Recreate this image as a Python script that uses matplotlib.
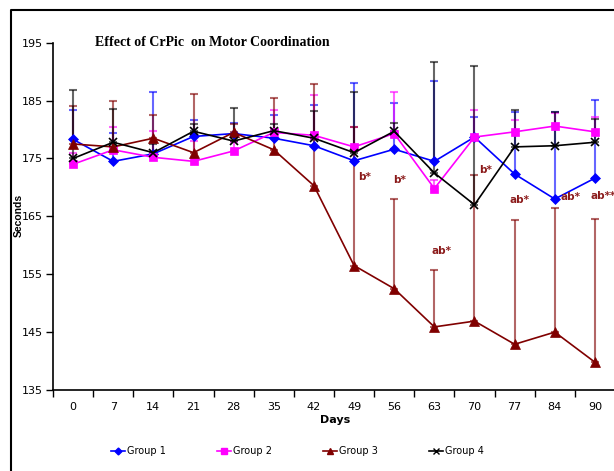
import matplotlib
matplotlib.use("Agg")
import matplotlib.pyplot as plt
from matplotlib.lines import Line2D

days = ["0", "7", "14", "21", "28", "35", "42", "49", "56", "63", "70", "77", "84", "90"]

g1 = [178.3, 174.5, 175.8, 178.8, 179.3, 178.5, 177.2, 174.6, 176.6, 174.5, 178.7, 172.3, 168.0, 171.6]
g1_err = [5.0, 4.9, 10.6, 2.9, 1.9, 4.0, 7.1, 13.5, 8.0, 13.9, 3.5, 10.7, 15.0, 13.5]

g2 = [174.0, 176.5, 175.2, 174.5, 176.3, 179.5, 179.0, 177.0, 179.3, 169.8, 178.7, 179.6, 180.6, 179.6]
g2_err = [2.0, 4.0, 4.6, 3.6, 1.5, 3.8, 6.9, 3.5, 7.1, 1.5, 4.7, 2.0, 2.3, 2.5]

g3 = [177.5, 177.0, 178.5, 176.0, 179.5, 176.5, 170.3, 156.5, 152.5, 145.9, 146.9, 142.9, 145.0, 139.8]
g3_err = [6.5, 8.0, 4.0, 10.2, 1.5, 8.9, 17.6, 24.0, 15.5, 9.9, 25.3, 21.4, 21.5, 24.8]

g4 = [175.0, 177.8, 176.0, 179.7, 178.0, 179.8, 178.5, 176.0, 179.7, 172.5, 167.0, 177.0, 177.2, 177.8]
g4_err = [11.8, 5.7, 1.5, 1.3, 5.7, 1.2, 4.7, 10.4, 1.5, 19.1, 23.9, 6.3, 5.9, 4.0]

# significance labels for group 3
sig_x = [7.1, 7.97, 8.94, 10.11, 10.88, 12.15, 12.88]
sig_y = [171.8, 171.3, 159.0, 173.0, 167.9, 168.3, 168.6]
sig_txt = ["b*", "b*", "ab*", "b*", "ab*", "ab*", "ab**"]

font = "DejaVu Sans"

fig = plt.figure(figsize=(6.14, 4.71), dpi=100)
ax = fig.add_axes([53 / 614, 1 - 390 / 471, 562 / 614, (390 - 42.7) / 471])

x = list(range(len(days)))
series = [
    (g1, g1_err, "#0000ff", "D", 5, "Group 1"),
    (g2, g2_err, "#ff00ff", "s", 6, "Group 2"),
    (g3, g3_err, "#800000", "^", 6.5, "Group 3"),
    (g4, g4_err, "#000000", "x", 6, "Group 4"),
]
handles = []
for vals, err, col, mk, ms, lab in series:
    ax.errorbar(x, vals, yerr=[[0] * len(err), err], fmt="none",
                ecolor=col, alpha=0.6, elinewidth=1.5, capsize=3, capthick=1.5)
for vals, err, col, mk, ms, lab in series:
    ax.plot(x, vals, color=col, lw=1.2, marker=mk, ms=ms, mew=1.2 if mk == "x" else 0.5,
            mec=col, mfc=col, label=lab)
    handles.append(Line2D([], [], color=col, lw=1.2, marker=mk, ms=ms * 0.7, mec=col, mfc=col))

for sx, sy, t in zip(sig_x, sig_y, sig_txt):
    ax.text(sx, sy, t, color="#8b1a1a", fontsize=7.5, fontweight="bold",
            family=font, ha="left", va="center")

ax.set_xlim(-0.5, 13.5)
ax.set_ylim(135, 195)
ax.set_yticks([135, 145, 155, 165, 175, 185, 195])
ax.set_xticks(x)
ax.set_xticklabels(days)
ax.set_xticks([i - 0.5 for i in range(15)], minor=True)
ax.tick_params(axis="x", which="major", length=0, pad=9)
ax.tick_params(axis="x", which="minor", length=5, width=1, direction="out")
ax.tick_params(axis="y", length=5, width=1, direction="out", pad=2)
for lbl in ax.get_xticklabels() + ax.get_yticklabels():
    lbl.set_family(font)
    lbl.set_fontsize(8)
for s in ["top", "right"]:
    ax.spines[s].set_visible(False)
ax.spines["left"].set_linewidth(1.2)
ax.spines["bottom"].set_linewidth(1.2)
ax.patch.set_alpha(0)

fig.text(95 / 614, 1 - 43 / 471, "Effect of CrPic  on Motor Coordination",
         family=["Liberation Serif", "DejaVu Serif"], fontweight="bold",
         fontsize=10, ha="left", va="center")
fig.text(19 / 614, 1 - 215 / 471, "Seconds", rotation=90, fontsize=7.5,
         fontweight="bold", family=["Liberation Sans", "DejaVu Sans"],
         ha="center", va="center")
fig.text(335 / 614, 1 - 420 / 471, "Days", fontsize=8, fontweight="bold",
         family=font, ha="center", va="center")

leg = fig.legend(handles, ["Group 1", "Group 2", "Group 3", "Group 4"],
                 loc="center", bbox_to_anchor=(297.5 / 614, 1 - 451 / 471), ncol=4,
                 frameon=False, handlelength=1.5, handletextpad=0.2,
                 columnspacing=5.2, prop={"family": font, "size": 7})

# outer chart frame (left and top edges visible)
fig.add_artist(Line2D([11 / 614, 11 / 614, 1.0], [0.0, 1 - 10 / 471, 1 - 10 / 471],
                      transform=fig.transFigure, color="black", lw=1.5))

fig.savefig("out.png", dpi=100)
